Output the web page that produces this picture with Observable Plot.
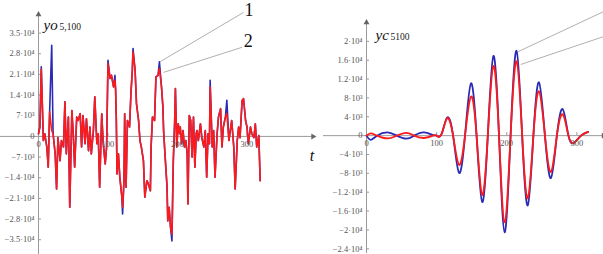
<!DOCTYPE html>
<html><head><meta charset="utf-8">
<script src="https://cdn.jsdelivr.net/npm/d3@7"></script>
<script src="https://cdn.jsdelivr.net/npm/@observablehq/plot@0.6"></script>
<style>
html,body{margin:0;padding:0;background:#fff;}
#wrap{position:relative;width:603px;height:254px;overflow:hidden;}
#left{position:absolute;left:0;top:0;}
#right{position:absolute;left:330px;top:0;}
</style></head><body>
<div id="wrap"><div id="left"></div><div id="right"></div></div>
<script>
// ---------- Left panel: yo_{5,100}(t) ----------
const loT = [0,2,4,7,9,12,14,16,19,21,24,26,28,31,33,36,38,40,43,45,48,50,52,55,57,60,62,64,67,69,72,74,76,79,81,84,86,88,91,93,96,98,100,103,105,108,110,111,112,113,115,117,120,121,123,124,126,128,131,133,135,136,139,141,144,146,148,151,153,156,158,161,162,164,167,169,172,174,177,179,180,182,185,186,188,190,192,194,196,197,199,201,203,204,206,208,210,212,214,215,217,219,221,223,225,227,228,230,233,235,238,240,242,244,246,247,250,252,254,257,259,262,264,266,269,271,274,276,278,281,283,286,288,290,293,295,298,300,302,305,307,310,312,314,317,319];
const loBlue = [900,3200,23600,-1400,900,-3600,-10400,8300,30900,900,-5900,-17800,-400,-8200,-1400,-3600,11700,-5900,6600,-24000,8800,900,-10400,6600,5400,7700,-3600,7100,-2500,6000,-4800,3200,-5900,2000,13400,-2500,900,-17200,7700,-1900,-9300,-3600,25800,19600,20700,16800,20700,15600,5400,-12700,-5900,-13800,-20600,-26300,-15000,7700,-17200,5400,3200,14500,22400,29800,22400,11100,5400,-1400,-3600,-8200,-20600,-15000,-16000,-18400,-3600,6600,5400,20200,20700,25300,16800,10000,2000,-5900,-17200,-28600,-24000,-30800,-35400,-8200,5400,16200,-3600,4300,900,3200,-2500,2000,-3600,-1400,-5900,-22900,7100,5400,-7000,6600,-10400,900,2000,-1400,4300,-400,-3600,2000,-13800,900,-2500,19000,-3600,2000,-13800,900,6600,9400,-3600,3200,6600,12200,-1400,2000,5400,-3600,-17800,-1400,3200,-400,12200,12800,5400,3200,-2500,3200,900,-400,4300,-3600,300,-15000];
const loRed = [900,3200,22700,-1400,900,-3600,-10400,8300,2000,900,-5900,-17800,-400,-8200,-1400,-3600,11700,-5900,6600,-24000,8800,900,-10400,6600,5400,7700,-3600,7100,-2500,6000,-4800,3200,-5900,2000,13400,-2500,900,-17200,7700,-1900,-9300,-3600,24700,19600,20700,16800,19000,15600,5400,-12700,-5900,-13800,-20600,-24000,-15000,7700,-17200,5400,3200,14500,22400,28700,22400,11100,5400,-1400,-3600,-8200,-20600,-15000,-16000,-18400,-3600,6600,5400,20200,20700,23000,16800,10000,2000,-5900,-17200,-28600,-24000,-30800,-33100,-8200,5400,16200,-3600,4300,900,3200,-2500,2000,-3600,-1400,-5900,-22900,7100,5400,-7000,6600,-10400,900,2000,-1400,4300,-400,-3600,2000,-13800,900,-2500,16800,-3600,2000,-13800,900,6600,9400,-3600,3200,6600,7700,-1400,2000,5400,-3600,-17800,-1400,3200,-400,12200,12800,5400,3200,-2500,3200,900,-400,4300,-3600,300,-15000];
const loYTicks = [35000,28000,21000,14000,7000,0,-7000,-14000,-21000,-28000,-35000];
const loYLabels = ["3.5·10⁴","2.8·10⁴","2.1·10⁴","1.4·10⁴","7·10³","0","−7·10³","−1.4·10⁴","−2.1·10⁴","−2.8·10⁴","−3.5·10⁴"];
const loXTicks = [0,100,200,300];
const loLeaders = [
  {label:"1", t1:175, v1:25300, t2:295, v2:42000, lt:303, lv:42600},
  {label:"2", t1:180, v1:21700, t2:293, v2:30200, lt:302, lv:32300}
];

// ---------- Right panel: yc_{5100}(t) ----------
const rcT    = [0,6,15,30,43,57,68,82,95,100,107,115,123.5,132,140.5,149,157,165,173,181,189,197,205.5,214,222,230,238,246,254.5,263,271.5,280,288,296,306,316];
const rcBlue = [0,-900,0,700,0,-650,0,700,100,0,300,3850,0,-7900,0,11100,0,-14100,0,16900,0,-20500,0,18000,0,-14800,0,11300,0,-9000,0,5600,0,-1500,0,800];
const rcRed  = [0,500,0,-600,0,600,0,-500,0,0,300,3700,0,-6200,0,8300,0,-12600,0,14800,0,-18400,0,15800,0,-13300,0,9400,0,-7700,0,4500,0,-1500,0,800];
const rcYTicks = [20000,16000,12000,8000,4000,0,-4000,-8000,-12000,-16000,-20000,-24000];
const rcYLabels = ["2·10⁴","1.6·10⁴","1.2·10⁴","8·10³","4·10³","0","−4·10³","−8·10³","−1.2·10⁴","−1.6·10⁴","−2·10⁴","−2.4·10⁴"];
const rcXTicks = [0,100,200,300];
const rcLeaders = [
  {t1:216, v1:17800, t2:338, v2:26300},
  {t1:220, v1:15100, t2:338, v2:21000}
];

const BLUE = "#2a2ab4", RED = "#ff1a1a", AXIS = "#9a9a9a", LAB = "#555";
const SERIF = "Liberation Serif, DejaVu Serif, serif";

function panel(o) {
  const rows = o.T.map((t, i) => ({t, blue: o.B[i], red: o.R[i]}));
  const [x0, x1] = o.xd, [y0, y1] = o.yd;
  return Plot.plot({
    width: o.width, height: 254,
    marginLeft: o.ml, marginRight: o.mr, marginTop: o.mt, marginBottom: o.mb,
    x: {domain: o.xd, axis: null},
    y: {domain: o.yd, axis: null},
    style: {background: "transparent", overflow: "visible"},
    marks: [
      Plot.ruleY([0], {stroke: AXIS, strokeWidth: 1, insetLeft: o.axisLeftExt}),
      Plot.ruleX([0], {stroke: AXIS, strokeWidth: 1}),
      Plot.dot([y1], {x: 0, y: d => d, symbol: "triangle", r: 2.2, fill: "#666", stroke: "none"}),
      Plot.dot([x1], {x: d => d, y: 0, symbol: "triangle", rotate: 90, r: 2.2, fill: "#666", stroke: "none"}),
      Plot.ruleY(o.yTicks, {x1: 0, x2: 0, insetRight: -3, stroke: AXIS}),
      Plot.ruleX(o.xTicks, {y1: 0, y2: 0, insetTop: -3, stroke: AXIS}),
      Plot.text(o.yTicks, {x: 0, y: d => d, text: (d, i) => o.yLabels[i], textAnchor: "end", dx: -4, fontSize: 8.5, fontFamily: SERIF, fill: LAB}),
      Plot.line(rows, {x: "t", y: "blue", stroke: BLUE, strokeWidth: o.sw, curve: o.curve}),
      Plot.line(rows, {x: "t", y: "red", stroke: RED, strokeWidth: o.sw, curve: o.curve}),
      Plot.text(o.xTicks, {x: d => d, y: 0, text: d => String(d), dy: 8, fontSize: 8.5, fontFamily: SERIF, fill: LAB}),
      Plot.link(o.leaders, {x1: "t1", y1: "v1", x2: "t2", y2: "v2", stroke: "#b0b0b0", strokeWidth: 1}),
      ...(o.leaderLabels ? [Plot.text(o.leaders, {x: "lt", y: "lv", text: "label", fontSize: 18, fontFamily: SERIF, fill: "#111"})] : []),
      Plot.text([o.name], {frameAnchor: "top-left", dx: o.nameDx, dy: o.nameDy, fontSize: 15, fontStyle: "italic", fontFamily: SERIF, fill: "#111", textAnchor: "start"}),
      Plot.text([o.sub], {frameAnchor: "top-left", dx: o.subDx, dy: o.subDy, fontSize: 9.5, fontFamily: SERIF, fill: "#222", textAnchor: "start"}),
      ...(o.tLabel ? [Plot.text(["t"], {x: x1, y: 0, dy: 19, dx: -1, fontSize: 16, fontStyle: "italic", fontFamily: SERIF, fill: "#111"})] : [])
    ]
  });
}

document.getElementById("left").appendChild(panel({
  T: loT, B: loBlue, R: loRed, width: 330, ml: 38, mr: 17.5, mt: 14, mb: 0,
  xd: [0, 395], yd: [-40000, 41300], axisLeftExt: -38,
  yTicks: loYTicks, yLabels: loYLabels, xTicks: loXTicks, leaders: loLeaders, leaderLabels: true,
  name: "yo", sub: "5,100", nameDx: 5, nameDy: 5, subDx: 21, subDy: 9, sw: 1.6, curve: "linear", tLabel: true
}));
document.getElementById("right").appendChild(panel({
  T: rcT, B: rcBlue, R: rcRed, width: 273, ml: 36, mr: 0, mt: 22, mb: 1,
  xd: [0, 338], yd: [-25000, 24000], axisLeftExt: -43,
  yTicks: rcYTicks, yLabels: rcYLabels, xTicks: rcXTicks, leaders: rcLeaders, leaderLabels: false,
  name: "yc", sub: "5100", nameDx: 9, nameDy: 7, subDx: 24, subDy: 11, sw: 1.8, curve: "natural", tLabel: false
}));
</script>
</body></html>
